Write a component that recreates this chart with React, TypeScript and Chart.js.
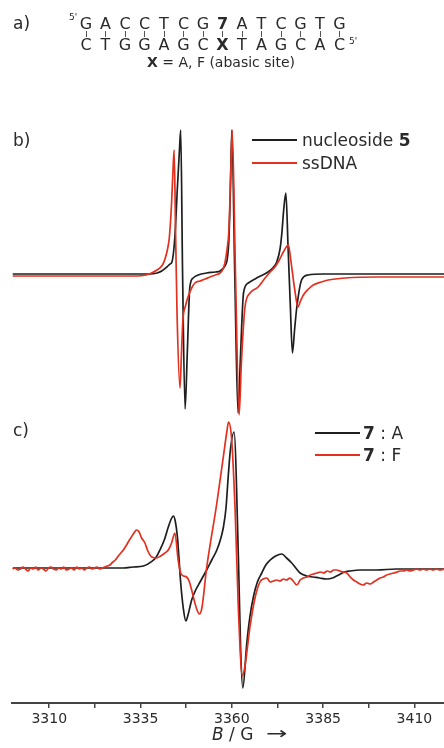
import React, { useEffect, useRef } from 'react';
import { Chart, registerables } from 'chart.js';

Chart.register(...registerables);

// ---------------- data ----------------
const TOP_STRAND = ['G', 'A', 'C', 'C', 'T', 'C', 'G', '7', 'A', 'T', 'C', 'G', 'T', 'G'];
const BOTTOM_STRAND = ['C', 'T', 'G', 'G', 'A', 'G', 'C', 'X', 'T', 'A', 'G', 'C', 'A', 'C'];
const BOLD_LETTERS = ['7', 'X'];

const X_MIN = 3299.8;
const X_MAX = 3418.1;
const MAJOR_TICKS = [3310, 3335, 3360, 3385, 3410];
const MINOR_TICKS = [3322.5, 3347.5, 3372.5, 3397.5];

// panel b) : [field / G, intensity (a.u.)]
const NUCLEOSIDE_5: [number, number][] = [
  [3300, 0], [3320, 0], [3337.6, 0], [3339.5, 1], [3340.8, 3], [3342.2, 7], [3343.1, 10], [3343.6, 12],
  [3344.4, 37], [3345.1, 87], [3345.7, 127], [3346.0, 144], [3346.5, 4], [3347.2, -135], [3347.8, -79],
  [3348.5, -13], [3349.4, -4], [3350.8, -1], [3353.1, 1], [3355.5, 2], [3356.8, 3], [3358.1, 8],
  [3358.7, 14], [3359.2, 35], [3359.6, 85], [3360.0, 144], [3360.8, 0], [3361.7, -139], [3362.4, -79],
  [3363.2, -19], [3364.5, -9], [3367.3, -3], [3369.9, 2], [3371.2, 6], [3372.3, 12], [3373.2, 25],
  [3373.7, 41], [3374.2, 64], [3374.8, 81], [3375.4, 27], [3376.0, -30], [3376.6, -79], [3377.2, -55],
  [3377.8, -33], [3379.1, -6], [3380.9, -1], [3385, 0], [3418.1, 0],
];

const SSDNA: [number, number][] = [
  [3300, -2], [3320, -2], [3334, -2], [3336.5, -1], [3338.0, 1], [3339.5, 4], [3341.0, 9], [3341.7, 15],
  [3342.4, 25], [3342.9, 37], [3343.5, 71], [3343.9, 105], [3344.2, 124], [3344.6, 40], [3345.0, -40],
  [3345.8, -114], [3346.2, -80], [3346.6, -46], [3347.3, -32], [3348.0, -23], [3349.0, -14], [3349.9, -9],
  [3351.3, -7], [3352.7, -5], [3354.0, -3], [3355.5, -1], [3356.8, 1], [3357.6, 5], [3358.1, 11],
  [3358.7, 25], [3359.2, 44], [3359.7, 100], [3360.1, 144], [3361.0, 0], [3362.0, -141], [3362.6, -90],
  [3363.6, -33], [3365.0, -19], [3367.2, -13], [3369.1, -4], [3370.5, 2], [3371.8, 7], [3373.0, 14],
  [3374.1, 22], [3375.5, 29], [3376.0, 18], [3376.4, 7], [3377.2, -15], [3378.1, -33], [3378.8, -27],
  [3379.6, -21], [3381.0, -15], [3382.3, -11], [3384.5, -8], [3386.4, -6], [3391.0, -4], [3400, -3],
  [3418.1, -3],
];

// panel c)
const DUPLEX_7A: [number, number][] = [
  [3300, 0], [3310, 0], [3320, 0], [3326, 0], [3330.3, 0], [3333, 1], [3335.8, 2], [3338.1, 6.6],
  [3339.3, 11], [3340.3, 18], [3341.5, 28], [3342.6, 41], [3343.4, 49], [3344.0, 52], [3344.5, 47],
  [3345.1, 31], [3346.0, -15], [3346.7, -40], [3347.4, -53], [3348.0, -47], [3349.0, -32], [3350.1, -22],
  [3351.3, -14], [3352.2, -8], [3353.1, -2], [3354.5, 8], [3355.9, 18], [3357.0, 30], [3357.7, 41],
  [3358.4, 60], [3359.0, 91], [3359.6, 118], [3360.6, 136], [3361.8, 10], [3362.4, -80], [3363.0, -120],
  [3364.1, -75], [3364.9, -50], [3365.9, -29], [3367.0, -14], [3368.2, -5], [3369.3, 3], [3370.5, 8],
  [3372.0, 12], [3373.7, 14], [3375.0, 10], [3376.4, 5], [3377.5, 0], [3378.7, -5], [3380.5, -8],
  [3382.3, -9], [3384.0, -10], [3386.0, -11], [3387.6, -10], [3389.2, -7], [3390.8, -4], [3392.4, -3],
  [3395, -2], [3399.7, -2], [3405, -1], [3410, -1], [3418.1, -1],
];

const DUPLEX_7F: [number, number][] = [
  [3300.0, -1], [3300.7, 0], [3301.4, -2], [3302.1, -1], [3302.8, 1], [3303.5, -1], [3304.2, -3],
  [3304.9, 0], [3305.6, -1], [3306.3, 1], [3307.0, -2], [3307.7, 0], [3308.4, -1], [3309.1, -3],
  [3309.8, 0], [3310.5, 1], [3311.2, -1], [3311.9, -2], [3312.6, 0], [3313.3, -1], [3314.0, 1],
  [3314.7, -2], [3315.4, -1], [3316.1, 0], [3316.8, -2], [3317.5, 1], [3318.2, -1], [3318.9, 0],
  [3319.6, -2], [3320.3, 0], [3321.0, 1], [3321.7, -1], [3322.4, 0], [3323.1, 1], [3323.8, -1],
  [3324.5, 0], [3325.2, 1], [3325.9, 2], [3326.6, 3], [3327.4, 6], [3328.1, 8], [3328.9, 12],
  [3329.6, 15], [3330.3, 18], [3331.0, 22], [3331.8, 27], [3332.5, 31], [3333.2, 35], [3333.9, 38],
  [3334.6, 36], [3335.3, 30], [3336.2, 25], [3337.0, 17], [3338.1, 11], [3339.4, 10], [3340.5, 12],
  [3341.7, 15], [3342.6, 18], [3343.5, 25], [3344.4, 35], [3345.3, 8], [3346.0, -5], [3346.8, -8],
  [3347.6, -9], [3348.3, -13], [3349.0, -22], [3350.2, -39], [3351.1, -46], [3351.8, -40], [3353.1, 0],
  [3355.9, 65], [3357.7, 112], [3358.7, 138], [3359.1, 146], [3359.9, 131], [3360.9, 58], [3361.8, -42],
  [3362.9, -108], [3363.6, -98], [3365.0, -58], [3366.4, -29], [3367.7, -14], [3368.6, -11], [3369.6, -10],
  [3370.5, -14], [3371.4, -13], [3372.3, -12], [3373.2, -13], [3374.1, -11], [3375.0, -12], [3375.9, -10],
  [3376.8, -13], [3377.8, -17], [3378.7, -12], [3379.6, -10], [3380.6, -9], [3381.5, -7], [3382.4, -6],
  [3383.3, -5], [3384.3, -4], [3385.2, -5], [3386.1, -3], [3387.0, -4], [3387.9, -2], [3388.7, -2],
  [3389.6, -3], [3390.5, -4], [3391.5, -5], [3392.4, -9], [3393.3, -12], [3394.2, -14], [3395.1, -16],
  [3396.0, -17], [3396.9, -15], [3397.9, -16], [3398.8, -14], [3399.7, -12], [3400.6, -10], [3401.5, -9],
  [3402.4, -7], [3403.3, -6], [3404.3, -5], [3405.2, -4], [3406.1, -3], [3407.0, -3], [3407.9, -2],
  [3408.8, -3], [3409.7, -2], [3410.6, -1], [3411.5, -2], [3412.4, -1], [3413.3, -2], [3414.2, -1],
  [3415.1, -2], [3416.0, -1], [3417.0, -2], [3418.1, -1],
];

// ---------------- styles ----------------
const FONT = '"DejaVu Sans", "Liberation Sans", Arial, sans-serif';
const BLACK = '#1e1e1e';
const RED = '#e3301f';
const TEXT = '#2a2a2a';

type TxtProps = {
  x: number; y: number; size: number; children: React.ReactNode;
  align?: 'left' | 'center'; weight?: number; style?: React.CSSProperties;
};
function Txt({ x, y, size, children, align = 'left', weight = 400, style }: TxtProps) {
  const lh = Math.round(size * 1.2);
  return (
    <div
      style={{
        position: 'absolute',
        left: align === 'center' ? x - 200 : x,
        width: align === 'center' ? 400 : undefined,
        textAlign: align,
        top: y - lh / 2,
        lineHeight: lh + 'px',
        fontSize: size,
        fontFamily: FONT,
        fontWeight: weight,
        color: TEXT,
        whiteSpace: 'nowrap',
        ...style,
      }}
    >
      {children}
    </div>
  );
}

function LegendLine({ x1, x2, y, color }: { x1: number; x2: number; y: number; color: string }) {
  return (
    <div style={{ position: 'absolute', left: x1, top: y - 1, width: x2 - x1, height: 2, background: color }} />
  );
}

export default function App() {
  const ref = useRef<HTMLCanvasElement>(null);

  useEffect(() => {
    const toPts = (arr: [number, number][]) => arr.map(([x, y]) => ({ x, y }));
    const line = (label: string, data: [number, number][], color: string, axis: string) => ({
      label,
      data: toPts(data),
      yAxisID: axis,
      borderColor: color,
      backgroundColor: color,
      borderWidth: 1.7,
      pointRadius: 0,
      fill: false,
      cubicInterpolationMode: 'monotone' as const,
    });
    const chart = new Chart(ref.current as HTMLCanvasElement, {
      type: 'line',
      data: {
        datasets: [
          line('ssDNA', SSDNA, RED, 'yb'),
          line('nucleoside 5', NUCLEOSIDE_5, BLACK, 'yb'),
          line('7 : F', DUPLEX_7F, RED, 'yc'),
          line('7 : A', DUPLEX_7A, BLACK, 'yc'),
        ],
      },
      options: {
        animation: false,
        responsive: false,
        devicePixelRatio: 1,
        layout: { padding: { left: 12, right: 0, top: 0, bottom: 0 } },
        plugins: { legend: { display: false }, tooltip: { enabled: false }, title: { display: false } },
        scales: {
          x: {
            type: 'linear',
            min: X_MIN,
            max: X_MAX,
            afterBuildTicks: (scale: any) => {
              scale.ticks = [...MAJOR_TICKS, ...MINOR_TICKS].sort((a, b) => a - b).map((v) => ({ value: v }));
            },
            afterFit: (scale: any) => {
              scale.height = 45;
            },
            ticks: {
              autoSkip: false,
              maxRotation: 0,
              padding: 3,
              color: TEXT,
              font: { family: FONT, size: 14 },
              callback: (v: any) => (MAJOR_TICKS.includes(Number(v)) ? String(v) : ''),
            },
            grid: { drawOnChartArea: false, tickLength: 5, color: '#444', lineWidth: 1.5 },
            border: { display: true, color: '#444', width: 2 },
          },
          yb: { type: 'linear', display: false, min: -429, max: 274 },
          yc: { type: 'linear', display: false, min: -135, max: 568 },
        },
      } as any,
    });
    return () => chart.destroy();
  }, []);

  const letterX = (i: number) => 86 + 19.5 * i;

  return (
    <div style={{ position: 'fixed', left: 0, top: 0, width: 444, height: 748, background: '#fff', overflow: 'hidden' }}>
      <canvas ref={ref} width={444} height={748} style={{ position: 'absolute', left: 0, top: 0, display: 'block' }} />

      {/* panel a */}
      <Txt x={13} y={23} size={17}>a)</Txt>
      <Txt x={69} y={17} size={9}>5'</Txt>
      {TOP_STRAND.map((c, i) => (
        <Txt key={'t' + i} x={letterX(i)} y={23} size={16} align="center" weight={BOLD_LETTERS.includes(c) ? 700 : 400}>
          {c}
        </Txt>
      ))}
      {TOP_STRAND.map((_, i) => (
        <div key={'bar' + i} style={{ position: 'absolute', left: letterX(i) - 0.5, top: 31, width: 1, height: 6, background: '#555' }} />
      ))}
      {BOTTOM_STRAND.map((c, i) => (
        <Txt key={'b' + i} x={letterX(i)} y={44} size={16} align="center" weight={BOLD_LETTERS.includes(c) ? 700 : 400}>
          {c}
        </Txt>
      ))}
      <Txt x={349} y={41} size={9}>5'</Txt>
      <Txt x={221} y={62} size={14} align="center">
        <b>X</b> = A, F (abasic site)
      </Txt>

      {/* panel b */}
      <Txt x={13} y={140} size={17}>b)</Txt>
      <LegendLine x1={252} x2={297} y={140} color={BLACK} />
      <Txt x={302} y={140} size={17}>
        nucleoside <b>5</b>
      </Txt>
      <LegendLine x1={252} x2={297} y={163} color={RED} />
      <Txt x={302} y={163} size={17}>ssDNA</Txt>

      {/* panel c */}
      <Txt x={13} y={430} size={17}>c)</Txt>
      <LegendLine x1={315} x2={360} y={433} color={BLACK} />
      <Txt x={363} y={433} size={17}>
        <b>7</b> : A
      </Txt>
      <LegendLine x1={315} x2={360} y={455} color={RED} />
      <Txt x={363} y={455} size={17}>
        <b>7</b> : F
      </Txt>

      {/* axis title */}
      <Txt x={212} y={734} size={17}>
        <i>B</i> / G
      </Txt>
      <Txt x={266} y={733} size={17} style={{ transform: 'scaleX(1.5)', transformOrigin: 'left center' }}>
        {'\u2192'}
      </Txt>
    </div>
  );
}
